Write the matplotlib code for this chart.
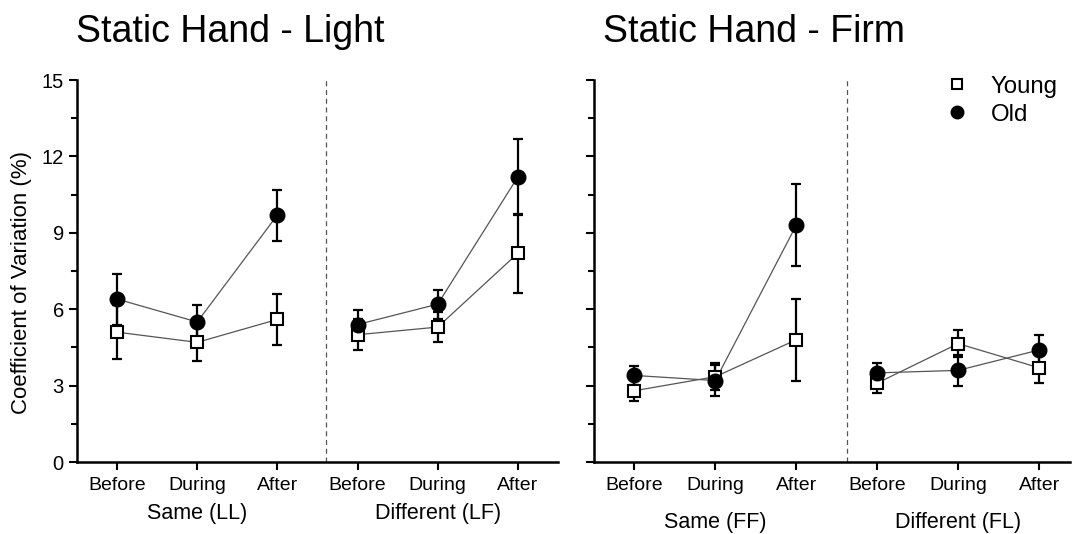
import numpy as np
import matplotlib.pyplot as plt
from matplotlib.lines import Line2D

plt.rcParams['font.family'] = ['Liberation Sans', 'DejaVu Sans']

phases = ['Before', 'During', 'After']
x_pos = np.array([0, 1, 2, 3, 4, 5])

# Static Hand - Light : Same (LL) then Different (LF)
light_young = [5.1, 4.7, 5.6, 5.0, 5.3, 8.2]
light_young_err = [1.05, 0.72, 1.0, 0.62, 0.6, 1.55]
light_old = [6.4, 5.5, 9.7, 5.4, 6.2, 11.2]
light_old_err = [1.0, 0.65, 1.0, 0.56, 0.57, 1.5]

# Static Hand - Firm : Same (FF) then Different (FL)
firm_young = [2.8, 3.35, 4.8, 3.1, 4.65, 3.7]
firm_young_err = [0.42, 0.52, 1.6, 0.4, 0.52, 0.6]
firm_old = [3.4, 3.2, 9.3, 3.5, 3.6, 4.4]
firm_old_err = [0.37, 0.6, 1.6, 0.37, 0.6, 0.58]

fig = plt.figure(figsize=(10.72, 5.34), dpi=100)
ax1 = fig.add_axes([0.0718, 0.1348, 0.4487, 0.7152])
ax2 = fig.add_axes([0.554, 0.1348, 0.444, 0.7152])


def draw_panel(ax, young, young_err, old, old_err, xmax, divider, groups):
    for grp in (slice(0, 3), slice(3, 6)):
        xs = x_pos[grp]
        for vals, errs in ((old, old_err), (young, young_err)):
            ax.errorbar(xs, np.array(vals)[grp], yerr=np.array(errs)[grp],
                        fmt='none', ecolor='black', elinewidth=1.6, capsize=3.5,
                        capthick=1.6, zorder=2)
        ax.plot(xs, np.array(old)[grp], color='#555555', lw=0.9, zorder=3)
        ax.plot(xs, np.array(young)[grp], color='#555555', lw=0.9, zorder=3)
        ax.plot(xs, np.array(old)[grp], 'o', ms=10.5, color='black', zorder=5)
        ax.plot(xs, np.array(young)[grp], 's', ms=9, mfc='white', mec='black',
                mew=1.5, zorder=4)
    ax.axvline(divider, color='#555555', lw=0.9, ls=(0, (4, 3)))
    ax.set_xlim(-0.5, xmax)
    ax.set_ylim(0, 15)
    ax.set_xticks(x_pos)
    ax.set_xticklabels(phases * 2, fontsize=14)
    ax.set_yticks([0, 3, 6, 9, 12, 15])
    ax.set_yticks(np.arange(1.5, 15, 3), minor=True)
    ax.tick_params(axis='both', which='major', length=6, width=1.5, direction='out')
    ax.tick_params(axis='x', pad=5)
    ax.tick_params(axis='y', which='minor', length=4, width=1.5)
    for side in ('top', 'right'):
        ax.spines[side].set_visible(False)
    for side in ('left', 'bottom'):
        ax.spines[side].set_linewidth(1.8)
    for xg, yg, label in groups:
        ax.text(xg, yg, label, transform=ax.get_xaxis_transform(),
                ha='center', va='center', fontsize=15.5)


draw_panel(ax1, light_young, light_young_err, light_old, light_old_err, 5.5, 2.61,
           [(1, -0.136, 'Same (LL)'), (4, -0.136, 'Different (LF)')])
ax1.set_ylabel('Coefficient of Variation (%)', fontsize=16)
ax1.yaxis.set_label_coords(-0.094, 0.47)
ax1.tick_params(axis='y', labelsize=14.5)

draw_panel(ax2, firm_young, firm_young_err, firm_old, firm_old_err, 5.38, 2.63,
           [(1, -0.159, 'Same (FF)'), (4, -0.159, 'Different (FL)')])
ax2.set_yticklabels([])

fig.text(76 / 1072, 1 - 42 / 534, 'Static Hand - Light', fontsize=27, va='baseline')
fig.text(603 / 1072, 1 - 42 / 534, 'Static Hand - Firm', fontsize=27, va='baseline')

handles = [Line2D([], [], ls='none', marker='s', ms=7, mfc='white', mec='black', mew=1.5),
           Line2D([], [], ls='none', marker='o', ms=9, color='black')]
ax2.legend(handles, ['Young', 'Old'], loc='upper right', bbox_to_anchor=(1.02, 1.068),
           frameon=False, fontsize=17.3, handlelength=1.0, handletextpad=0.9,
           labelspacing=0.25)

fig.savefig('out.png', dpi=100)
